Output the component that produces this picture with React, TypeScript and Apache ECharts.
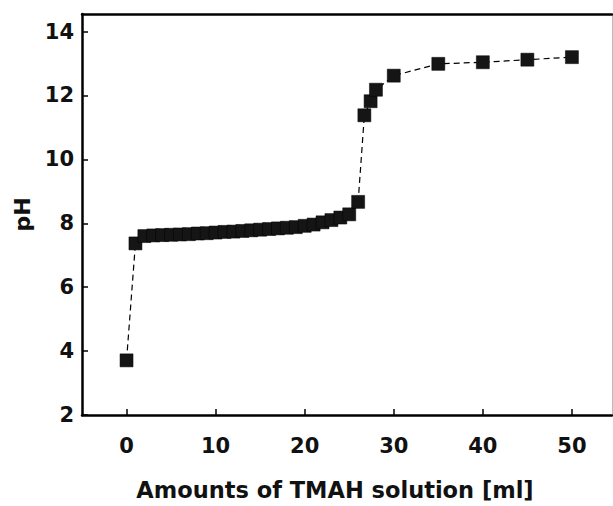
import React, { useEffect, useRef } from "react";
import * as echarts from "echarts";

// TMAH volume added [ml]
const volumes: number[] = [
  0, 1, 2, 3, 4, 5, 6, 7, 8, 9, 10, 11, 12, 13, 14, 15, 16, 17, 18, 19, 20,
  21, 22, 23, 24, 25, 26, 26.7, 27.4, 28, 30, 35, 40, 45, 50,
];
// measured pH
const phValues: number[] = [
  3.71, 7.37, 7.6, 7.62, 7.63, 7.64, 7.65, 7.66, 7.68, 7.69, 7.71, 7.73, 7.74,
  7.76, 7.78, 7.8, 7.82, 7.84, 7.86, 7.88, 7.92, 7.96, 8.03, 8.1, 8.18, 8.28,
  8.67, 11.38, 11.82, 12.18, 12.62, 12.99, 13.04, 13.12, 13.2,
];
const xTicks: number[] = [0, 10, 20, 30, 40, 50];
const yTicks: number[] = [2, 4, 6, 8, 10, 12, 14];

const xTitle = "Amounts of TMAH solution [ml]";
const yTitle = "pH";

const FONT = "DejaVu Sans";

export default function App() {
  const ref = useRef<HTMLDivElement>(null);

  useEffect(() => {
    if (!ref.current) return;
    const chart = echarts.init(ref.current, null, { renderer: "svg" });
    const data = volumes.map((v, i) => [v, phValues[i]]);
    const labelStyle = {
      fontFamily: FONT,
      fontWeight: "bold" as const,
      fontSize: 21,
      color: "#111",
    };
    chart.setOption({
      animation: false,
      backgroundColor: "#fff",
      grid: { left: 82, right: 1, top: 14, bottom: 81, containLabel: false },
      xAxis: [
        {
          type: "value",
          min: -5,
          max: 54.5,
          position: "bottom",
          splitLine: { show: false },
          axisLine: {
            show: true,
            onZero: false,
            lineStyle: { color: "#000", width: 2.5 },
          },
          axisTick: {
            show: true,
            inside: true,
            length: 6,
            customValues: xTicks,
            lineStyle: { color: "#000", width: 1.5 },
          },
          axisLabel: {
            ...labelStyle,
            margin: 20,
            customValues: xTicks,
          },
          name: xTitle,
          nameLocation: "middle",
          nameGap: 63,
          nameTextStyle: {
            fontFamily: FONT,
            fontWeight: "bold",
            fontSize: 22.5,
            color: "#111",
            padding: [0, 24, 0, 0],
          },
        },
        {
          type: "value",
          min: -5,
          max: 54.5,
          position: "top",
          splitLine: { show: false },
          axisLine: {
            show: true,
            onZero: false,
            lineStyle: { color: "#000", width: 2.5 },
          },
          axisTick: { show: false },
          axisLabel: { show: false },
        },
      ],
      yAxis: [
        {
          type: "value",
          min: 2,
          max: 14.55,
          position: "left",
          splitLine: { show: false },
          axisLine: {
            show: true,
            onZero: false,
            lineStyle: { color: "#000", width: 2.5 },
          },
          axisTick: {
            show: true,
            inside: true,
            length: 6,
            customValues: yTicks,
            lineStyle: { color: "#000", width: 1.5 },
          },
          axisLabel: {
            ...labelStyle,
            margin: 8,
            customValues: yTicks,
          },
          name: yTitle,
          nameLocation: "middle",
          nameGap: 47,
          nameRotate: 90,
          nameTextStyle: {
            fontFamily: FONT,
            fontWeight: "bold",
            fontSize: 22,
            color: "#111",
          },
        },
        {
          type: "value",
          min: 2,
          max: 14.55,
          position: "right",
          splitLine: { show: false },
          axisLine: {
            show: true,
            onZero: false,
            lineStyle: { color: "#bbb", width: 1 },
          },
          axisTick: { show: false },
          axisLabel: { show: false },
        },
      ],
      series: [
        {
          type: "line",
          xAxisIndex: 0,
          yAxisIndex: 0,
          data,
          symbol: "rect",
          symbolSize: 13,
          showAllSymbol: true,
          itemStyle: { color: "#151515", borderColor: "#000", borderWidth: 0.5 },
          lineStyle: { color: "#000", width: 1.2, type: [6, 4] },
        },
      ],
    });
    return () => chart.dispose();
  }, []);

  return (
    <div
      ref={ref}
      style={{ position: "fixed", left: 0, top: 0, width: 613, height: 506 }}
    />
  );
}
